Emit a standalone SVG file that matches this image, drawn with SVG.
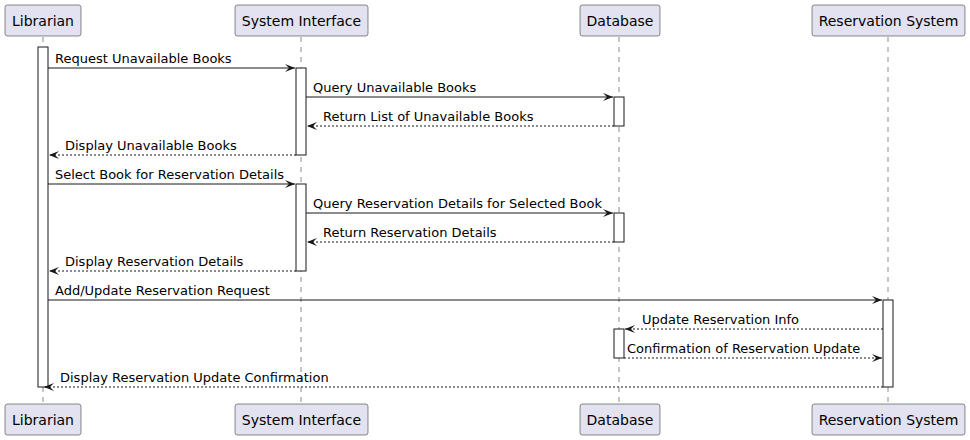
<svg xmlns="http://www.w3.org/2000/svg" width="970" height="440" viewBox="0 0 970 440">
<defs>
<style>
.box{fill:#E2E2F0;stroke:#181818;stroke-width:0.5}
.pt{font-family:"DejaVu Sans",sans-serif;font-size:14px;fill:#000;text-anchor:middle}
.life{stroke:#181818;stroke-width:0.5;stroke-dasharray:5,5}
.act{fill:#FFFFFF;stroke:#181818;stroke-width:1}
.msg{stroke:#181818;stroke-width:1;fill:none}
.dash{stroke-dasharray:2,2}
.ml{font-family:"DejaVu Sans",sans-serif;font-size:13px;fill:#000}
</style>
<marker id="ah" viewBox="0 0 10 8" refX="10" refY="4" markerWidth="10" markerHeight="8" markerUnits="userSpaceOnUse" orient="auto">
<polygon points="0,0 10,4 0,8 4,4" fill="#181818"/>
</marker>
</defs>
<rect width="970" height="440" fill="#FFFFFF"/>
<g id="lifelines">
<line class="life" x1="43" y1="37" x2="43" y2="404"/>
<line class="life" x1="301" y1="37" x2="301" y2="404"/>
<line class="life" x1="619" y1="37" x2="619" y2="404"/>
<line class="life" x1="888" y1="37" x2="888" y2="404"/>
</g>
<g id="p-librarian">
<rect class="box" x="5" y="5" width="76" height="31" rx="2.5"/>
<text class="pt" x="43" y="25.5">Librarian</text>
<rect class="box" x="5" y="404" width="76" height="31" rx="2.5"/>
<text class="pt" x="43" y="424.5">Librarian</text>
</g>
<g id="p-system-interface">
<rect class="box" x="235" y="5" width="133" height="31" rx="2.5"/>
<text class="pt" x="301.5" y="25.5">System Interface</text>
<rect class="box" x="235" y="404" width="133" height="31" rx="2.5"/>
<text class="pt" x="301.5" y="424.5">System Interface</text>
</g>
<g id="p-database">
<rect class="box" x="580" y="5" width="80" height="31" rx="2.5"/>
<text class="pt" x="620" y="25.5">Database</text>
<rect class="box" x="580" y="404" width="80" height="31" rx="2.5"/>
<text class="pt" x="620" y="424.5">Database</text>
</g>
<g id="p-reservation-system">
<rect class="box" x="812" y="5" width="153" height="31" rx="2.5"/>
<text class="pt" x="888.5" y="25.5">Reservation System</text>
<rect class="box" x="812" y="404" width="153" height="31" rx="2.5"/>
<text class="pt" x="888.5" y="424.5">Reservation System</text>
</g>
<g id="activations">
<rect class="act" x="38" y="47" width="10" height="340"/>
<rect class="act" x="296" y="68" width="10" height="87"/>
<rect class="act" x="296" y="184" width="10" height="87"/>
<rect class="act" x="614" y="97" width="10" height="29"/>
<rect class="act" x="614" y="213" width="10" height="29"/>
<rect class="act" x="614" y="329" width="10" height="29"/>
<rect class="act" x="883" y="300" width="10" height="87"/>
</g>
<g id="connectors">
<line class="msg" x1="48" y1="68" x2="295" y2="68" marker-end="url(#ah)"/>
<text class="ml" x="55" y="63">Request Unavailable Books</text>
<line class="msg" x1="306" y1="97" x2="613" y2="97" marker-end="url(#ah)"/>
<text class="ml" x="313" y="92">Query Unavailable Books</text>
<line class="msg dash" x1="614" y1="126" x2="307" y2="126" marker-end="url(#ah)"/>
<text class="ml" x="323" y="121">Return List of Unavailable Books</text>
<line class="msg dash" x1="296" y1="155" x2="49" y2="155" marker-end="url(#ah)"/>
<text class="ml" x="65" y="150">Display Unavailable Books</text>
<line class="msg" x1="48" y1="184" x2="295" y2="184" marker-end="url(#ah)"/>
<text class="ml" x="55" y="179">Select Book for Reservation Details</text>
<line class="msg" x1="306" y1="213" x2="613" y2="213" marker-end="url(#ah)"/>
<text class="ml" x="313" y="208">Query Reservation Details for Selected Book</text>
<line class="msg dash" x1="614" y1="242" x2="307" y2="242" marker-end="url(#ah)"/>
<text class="ml" x="323" y="237">Return Reservation Details</text>
<line class="msg dash" x1="296" y1="271" x2="49" y2="271" marker-end="url(#ah)"/>
<text class="ml" x="65" y="266">Display Reservation Details</text>
<line class="msg" x1="48" y1="300" x2="882" y2="300" marker-end="url(#ah)"/>
<text class="ml" x="55" y="295">Add/Update Reservation Request</text>
<line class="msg dash" x1="883" y1="329" x2="625" y2="329" marker-end="url(#ah)"/>
<text class="ml" x="642" y="324">Update Reservation Info</text>
<line class="msg dash" x1="624" y1="358" x2="882" y2="358" marker-end="url(#ah)"/>
<text class="ml" x="627" y="353">Confirmation of Reservation Update</text>
<line class="msg dash" x1="883" y1="387" x2="44" y2="387" marker-end="url(#ah)"/>
<text class="ml" x="60" y="382">Display Reservation Update Confirmation</text>
</g>
</svg>
